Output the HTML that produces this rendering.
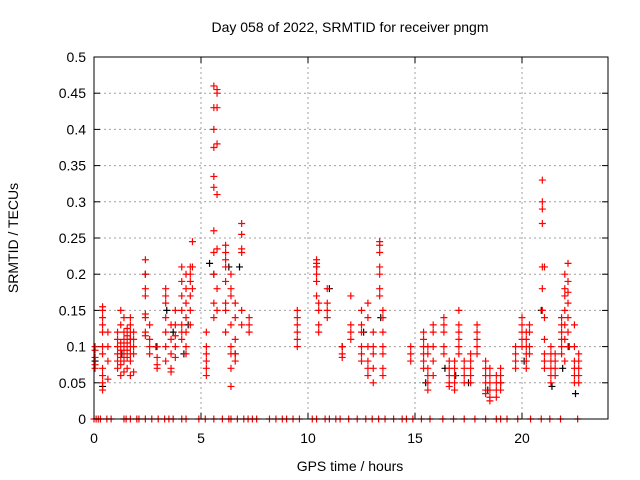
<!DOCTYPE html>
<html><head><meta charset="utf-8"><style>
body{margin:0;background:#fff}
svg{display:block;font-family:"Liberation Sans",sans-serif}
</style></head><body>
<svg id="chart" width="640" height="480" viewBox="0 0 640 480">
<text x="350" y="32" font-size="14" text-anchor="middle">Day 058 of 2022, SRMTID for receiver pngm</text>
<text x="350" y="471" font-size="14" text-anchor="middle">GPS time / hours</text>
<text x="18" y="238" font-size="14" text-anchor="middle" transform="rotate(-90 18 238)">SRMTID / TECUs</text>
<g id="grid"></g><g id="ticks"></g><g id="marks"></g>
<rect x="94" y="57" width="514" height="362" fill="none" stroke="#000" stroke-width="1"/>
</svg>
<script>
const xTicks=[0,5,10,15,20];
const yTicks=[0,0.05,0.1,0.15,0.2,0.25,0.3,0.35,0.4,0.45,0.5];
const yTickLabels=["0","0.05","0.1","0.15","0.2","0.25","0.3","0.35","0.4","0.45","0.5"];
const redCols=[0.05,0.4,0.65,1.1,1.25,1.4,1.55,1.7,1.85,2.4,2.6,2.95,3.35,3.6,3.8,4.1,4.3,4.5,4.6,5.25,5.6,5.75,6.15,6.4,6.6,6.9,7.25,9.5,10.4,10.5,10.9,11.6,12.0,12.5,12.8,13.05,13.35,13.5,14.8,15.4,15.6,15.85,16.35,16.6,16.85,17.05,17.3,17.6,17.9,18.3,18.5,18.8,19.0,19.7,20.0,20.2,20.35,20.95,21.05,21.35,21.55,21.85,22.0,22.15,22.45,22.65];
const redVals=[
[0.1,0.095,0.085,0.075,0.07],
[0.04,0.05,0.06,0.07,0.09,0.1,0.12,0.13,0.14,0.15,0.155],
[0.055,0.08,0.1,0.12],
[0.07,0.08,0.09,0.1,0.11,0.12],
[0.06,0.075,0.085,0.095,0.105,0.13,0.15],
[0.065,0.08,0.09,0.1,0.11,0.12,0.14],
[0.07,0.085,0.095,0.105,0.115,0.125],
[0.06,0.08,0.09,0.1,0.11,0.12,0.13,0.14],
[0.065,0.09,0.1,0.11,0.12],
[0.22,0.2,0.18,0.17,0.145,0.14,0.12,0.115],
[0.1,0.13,0.11,0.09],
[0.085,0.075,0.1,0.07],
[0.18,0.17,0.16,0.14,0.12,0.1,0.08],
[0.13,0.11,0.09,0.07,0.065],
[0.15,0.13,0.115,0.1,0.085],
[0.21,0.19,0.17,0.15,0.13,0.12,0.11],
[0.2,0.18,0.16,0.14,0.12,0.1,0.09],
[0.21,0.2,0.19,0.17,0.15,0.13],
[0.245,0.21,0.18],
[0.12,0.1,0.09,0.08,0.07,0.06],
[0.14,0.16,0.2,0.23,0.26,0.32,0.335,0.375,0.4,0.43,0.46],
[0.45,0.455,0.43,0.38,0.31,0.235,0.18,0.15],
[0.24,0.23,0.22,0.21,0.19,0.16,0.15,0.12],
[0.2,0.18,0.17,0.13,0.1,0.09,0.07,0.045],
[0.16,0.14,0.11,0.09,0.08],
[0.27,0.255,0.235,0.23,0.15,0.13],
[0.14,0.13,0.12],
[0.15,0.14,0.13,0.12,0.11,0.1],
[0.22,0.215,0.21,0.2,0.19,0.17],
[0.16,0.15,0.13,0.12],
[0.18,0.16,0.15,0.14],
[0.1,0.09,0.085],
[0.17,0.13,0.12,0.11],
[0.15,0.13,0.12,0.1,0.09,0.08],
[0.16,0.14,0.1,0.08,0.07,0.06],
[0.12,0.1,0.09,0.07,0.05],
[0.245,0.24,0.23,0.21,0.2,0.18,0.17],
[0.15,0.14,0.12,0.1,0.09,0.07,0.06],
[0.1,0.09,0.08],
[0.12,0.11,0.1,0.09,0.08,0.07],
[0.1,0.09,0.07,0.06,0.05,0.04],
[0.13,0.12,0.1,0.08,0.06],
[0.14,0.13,0.12,0.1,0.09],
[0.08,0.07,0.06,0.05,0.045],
[0.06,0.05,0.04,0.07,0.08],
[0.09,0.1,0.11,0.12,0.13,0.15],
[0.06,0.05,0.07,0.08],
[0.06,0.05,0.07,0.08,0.09],
[0.13,0.12,0.11,0.1,0.09],
[0.08,0.07,0.06,0.05,0.04,0.035],
[0.05,0.04,0.03,0.025,0.06,0.07],
[0.06,0.05,0.04,0.03],
[0.07,0.06,0.05,0.04],
[0.1,0.09,0.08,0.07],
[0.14,0.13,0.12,0.11,0.1],
[0.12,0.11,0.1,0.09,0.08,0.07],
[0.13,0.12,0.1,0.09],
[0.33,0.3,0.29,0.27,0.21,0.18,0.15],
[0.21,0.14,0.11,0.09,0.08,0.07],
[0.1,0.09,0.08,0.07,0.06,0.05],
[0.09,0.08,0.07,0.06],
[0.14,0.13,0.12,0.11,0.1,0.09],
[0.2,0.18,0.17,0.15,0.13,0.11,0.08],
[0.215,0.19,0.175,0.16,0.14,0.12,0.1],
[0.13,0.1,0.08,0.07,0.06,0.05],
[0.09,0.08,0.07,0.06,0.05]
];
const blackHours=[0.05,0.4,1.3,1.7,2.4,2.9,3.4,3.7,4.2,4.4,5.4,5.6,6.3,6.6,6.8,10.4,11.0,11.6,12.6,13.4,15.5,16.4,16.9,17.5,18.4,19.0,20.1,20.9,21.4,21.9,22.2,22.5];
const blackTec=[0.08,0.045,0.09,0.11,0.2,0.1,0.15,0.12,0.09,0.13,0.215,0.2,0.21,0.09,0.21,0.21,0.18,0.1,0.12,0.14,0.05,0.07,0.06,0.05,0.04,0.05,0.08,0.15,0.045,0.07,0.1,0.035];
const zeroHours=[0.0,0.1,0.2,0.3,0.6,0.8,1.4,1.5,1.7,2.0,2.1,2.4,2.7,3.0,3.3,3.5,3.7,4.1,4.3,4.9,5.2,5.6,6.0,6.3,6.4,6.7,7.0,7.2,7.4,7.6,8.2,8.5,8.8,9.0,9.3,9.6,10.2,10.4,10.8,11.0,11.3,11.5,11.9,12.3,12.7,13.0,13.3,13.6,14.0,14.4,14.6,14.9,15.3,15.7,16.3,16.8,17.3,17.8,18.3,18.8,19.0,19.3,19.8,20.4,20.9,21.3,21.8,22.6];
const X=h=>94+h*21.4, Y=v=>419-v*724;
const NS="http://www.w3.org/2000/svg";
const grid=document.getElementById('grid'),ticks=document.getElementById('ticks'),marks=document.getElementById('marks');
function mk(tag,attrs,parent){const e=document.createElementNS(NS,tag);for(const k in attrs)e.setAttribute(k,attrs[k]);parent.appendChild(e);return e;}
yTicks.forEach((v,i)=>{
 const y=Y(v);
 if(i>0&&i<yTicks.length-1){const g=mk('line',{x1:94,x2:608,y1:y,y2:y,stroke:'#a0a0a0','stroke-dasharray':'2,3'},grid);
 
 }
 mk('line',{x1:94,x2:100,y1:y,y2:y,stroke:'#000'},ticks);
 mk('line',{x1:602,x2:608,y1:y,y2:y,stroke:'#000'},ticks);
 const t=mk('text',{x:86,y:y+5,'font-size':14,'text-anchor':'end'},ticks);t.textContent=yTickLabels[i];
 
 
});
xTicks.forEach(h=>{
 const x=X(h);
 if(h>0){const g=mk('line',{x1:x,x2:x,y1:57,y2:419,stroke:'#a0a0a0','stroke-dasharray':'2,3'},grid);
 
 }
 mk('line',{x1:x,x2:x,y1:413,y2:419,stroke:'#000'},ticks);
 mk('line',{x1:x,x2:x,y1:57,y2:63,stroke:'#000'},ticks);
 const t=mk('text',{x:x,y:443,'font-size':14,'text-anchor':'middle'},ticks);t.textContent=h;
 
 
});
function plus(h,v,col,name){
 const x=X(h),y=Y(v);
 const p=mk('path',{d:`M${x-3.5} ${y}H${x+3.5}M${x} ${y-3.5}V${y+3.5}`,stroke:col,'stroke-width':1.2,fill:'none'},marks);
 
 
}
blackHours.forEach((h,i)=>plus(h,blackTec[i],'#000','black-point'));
redCols.forEach((h,i)=>(redVals[i]||[]).forEach(v=>plus(h,v,'#ff0000','red-point')));
zeroHours.forEach(h=>plus(h,0,'#ff0000','zero-point'));
</script>
</body></html>
